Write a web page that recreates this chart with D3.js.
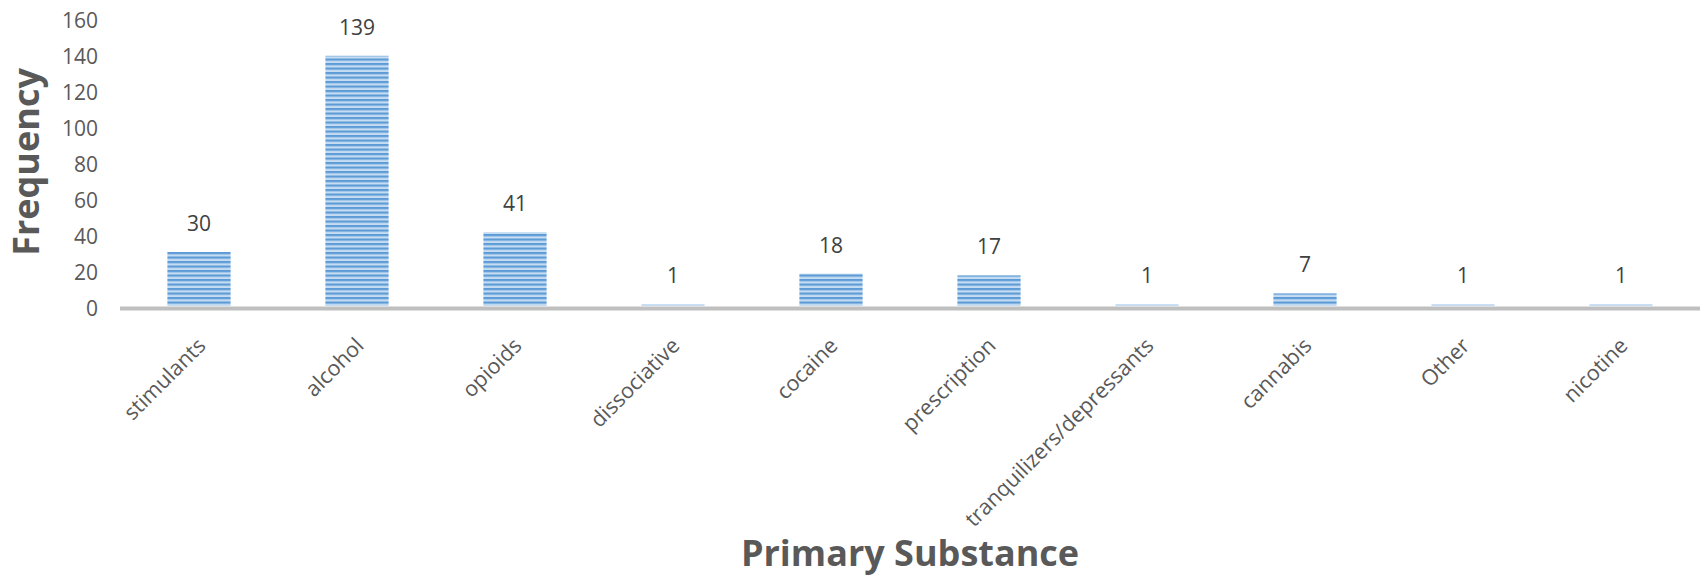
<!DOCTYPE html>
<html>
<head>
<meta charset="utf-8">
<script src="https://cdn.jsdelivr.net/npm/d3@7"></script>
<style>
  html, body { margin: 0; padding: 0; background: #ffffff; }
  svg { display: block; }
</style>
</head>
<body>
<svg id="chart" width="1702" height="577"></svg>
<script>
// Primary substance frequencies
const categories = ["stimulants", "alcohol", "opioids", "dissociative", "cocaine",
  "prescription", "tranquilizers/depressants", "cannabis", "Other", "nicotine"];
const frequencies = [30, 139, 41, 1, 18, 17, 1, 7, 1, 1];
const yTicks = [0, 20, 40, 60, 80, 100, 120, 140, 160];
const xTitle = "Primary Substance";
const yTitle = "Frequency";

const svg = d3.select("#chart");
const plot = { left: 120, right: 1700, top: 18, bottom: 306 };

const x = d3.scaleBand()
  .domain(categories)
  .range([plot.left, plot.right])
  .paddingInner(0.6)
  .paddingOuter(0.3);

const y = d3.scaleLinear()
  .domain([0, 160])
  .range([plot.bottom, plot.top]);

// Striped fill for the bars
const defs = svg.append("defs");
const pat = defs.append("pattern")
  .attr("id", "stripes")
  .attr("patternUnits", "userSpaceOnUse")
  .attr("width", 10)
  .attr("height", 4.5);
pat.append("rect").attr("width", 10).attr("height", 4.5).attr("fill", "#c6dcf2");
pat.append("rect").attr("y", 0).attr("width", 10).attr("height", 2.2).attr("fill", "#5b9bd5");

const soft = defs.append("filter").attr("id", "soft")
  .attr("x", "-5%").attr("y", "-5%").attr("width", "110%").attr("height", "110%");
soft.append("feGaussianBlur").attr("stdDeviation", 0.45);

// Bars
svg.append("g")
  .selectAll("rect")
  .data(categories)
  .join("rect")
  .attr("x", d => x(d))
  .attr("width", x.bandwidth())
  .attr("y", (d, i) => y(frequencies[i]))
  .attr("height", (d, i) => y(0) - y(frequencies[i]))
  .attr("fill", "url(#stripes)")
  .attr("filter", "url(#soft)");

// Category axis line
svg.append("line")
  .attr("x1", plot.left).attr("x2", plot.right)
  .attr("y1", y(0) + 2.5).attr("y2", y(0) + 2.5)
  .attr("stroke", "#bfbfbf")
  .attr("stroke-width", 4);

// Value axis labels
const yAxis = svg.append("g")
  .attr("transform", `translate(98,3)`)
  .call(d3.axisLeft(y).tickValues(yTicks).tickSize(0).tickPadding(0));
yAxis.select(".domain").remove();
yAxis.selectAll("text")
  .attr("font-family", "'Open Sans', sans-serif")
  .attr("font-size", 21)
  .attr("fill", "#595959");

// Value labels above bars
svg.append("g")
  .selectAll("text")
  .data(categories)
  .join("text")
  .attr("x", d => x(d) + x.bandwidth() / 2)
  .attr("y", (d, i) => y(frequencies[i]) - 21)
  .attr("text-anchor", "middle")
  .attr("font-family", "'Open Sans', sans-serif")
  .attr("font-size", 21)
  .attr("fill", "#404040")
  .text((d, i) => frequencies[i]);

// Rotated category labels
svg.append("g")
  .selectAll("text")
  .data(categories)
  .join("text")
  .attr("transform", d => `translate(${x(d) + x.bandwidth() / 2 + 8},347) rotate(-45)`)
  .attr("text-anchor", "end")
  .attr("font-family", "'Open Sans', sans-serif")
  .attr("font-size", 21.5)
  .attr("fill", "#595959")
  .text(d => d);

// Axis titles
svg.append("text")
  .attr("x", (plot.left + plot.right) / 2)
  .attr("y", 566)
  .attr("text-anchor", "middle")
  .attr("font-family", "'Open Sans', sans-serif")
  .attr("font-weight", "bold")
  .attr("font-size", 36)
  .attr("fill", "#595959")
  .text(xTitle);

svg.append("text")
  .attr("transform", "translate(39,162) rotate(-90)")
  .attr("text-anchor", "middle")
  .attr("font-family", "'Open Sans', sans-serif")
  .attr("font-weight", "bold")
  .attr("font-size", 36)
  .attr("fill", "#595959")
  .text(yTitle);
</script>
</body>
</html>
